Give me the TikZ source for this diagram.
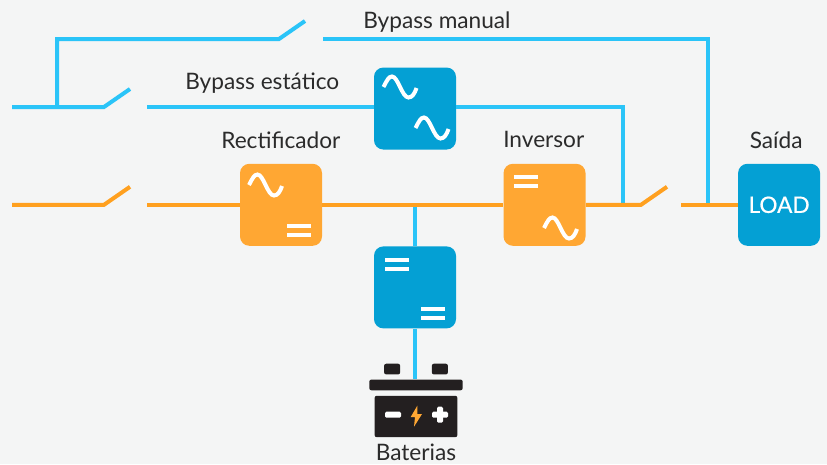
\documentclass[tikz,border=0pt]{standalone}
\usepackage{fontspec}
\setmainfont{Lato}
\newfontfamily\loadfont[RawFeature={embolden=0.5}]{Lato}
\usetikzlibrary{positioning}
\definecolor{bgpage}{HTML}{F4F5F5}
\definecolor{boxblue}{HTML}{04A0D4}
\definecolor{boxorange}{HTML}{FFA733}
\definecolor{linecyan}{HTML}{2AC4F8}
\definecolor{lineorange}{HTML}{FFA01F}
\definecolor{battblack}{HTML}{231F20}
\definecolor{labelgrey}{HTML}{2B2B2B}
\tikzset{
    unit/.style={minimum size=61.5pt,inner sep=0pt,rounded corners=7pt},
    blueunit/.style={unit,fill=boxblue},
    orangeunit/.style={unit,fill=boxorange},
    cyanline/.style={draw=linecyan,line width=3pt},
    orangeline/.style={draw=lineorange,line width=3pt},
    tag/.style={text=labelgrey,font=\fontsize{17}{20}\selectfont,inner sep=0pt},
    blackpart/.style={fill=battblack,inner sep=0pt,rounded corners=1.5pt},
    sine/.pic={
        \draw[white,line width=3pt] (-16.5,0) .. controls (-13,-7) and (-11,-10.5) .. (-8,-10.5)
            .. controls (-2,-10.5) and (2,10.5) .. (8.5,10.5)
            .. controls (12,10.5) and (14.5,7) .. (16.5,1);
    },
    equal/.pic={
        \fill[white] (-12,-6.5) rectangle (12,-2.5);
        \fill[white] (-12,2.5) rectangle (12,6.5);
    }
}
\begin{document}
\begin{tikzpicture}[x=0.75pt,y=-0.75pt]
    \fill[bgpage] (0,0) rectangle (827,464);
    \useasboundingbox (0,0) rectangle (827,464);

    \coordinate (tap) at (415,204.8);
    \node[orangeunit] (rect) at (281,204.8) {};
    \node[orangeunit,right=135.75pt of rect] (inv) {};
    \node[blueunit,right=114pt of inv,text=white,font=\fontsize{17}{20}\loadfont] (load) {LOAD};
    \node[blueunit,below=31pt of tap] (dc) {};
    \node[blueunit,above=41.25pt of tap] (stat) {};

    % battery
    \node[blackpart,minimum width=70pt,minimum height=8pt,below=38pt of dc,xshift=0.75pt] (bar) {};
    \node[blackpart,minimum width=12pt,minimum height=8pt,above left=3.5pt and -23.5pt of bar] (termleft) {};
    \node[blackpart,minimum width=12pt,minimum height=8pt,above right=3.5pt and -23.5pt of bar] (termright) {};
    \node[blackpart,minimum width=62pt,minimum height=31pt,below=3.75pt of bar] (body) {};
    \node[tag,below=5pt of body] (batt) {Baterias};

    % free ends
    \coordinate (inA) at (12,107);
    \coordinate (swA) at (104,107);
    \coordinate (bladeA) at (130,89);
    \coordinate (backA) at (147,107);
    \coordinate (upA) at (57,107);
    \coordinate (cornerB) at (57,39);
    \coordinate (swB) at (279,39);
    \coordinate (bladeB) at (305,21);
    \coordinate (backB) at (323,39);
    \coordinate (cornerC) at (708,39);
    \coordinate (meetC) at (708,204.8);
    \coordinate (cornerD) at (623,107);
    \coordinate (meetD) at (623,204.8);
    \coordinate (inE) at (12,204.8);
    \coordinate (swE) at (104,204.8);
    \coordinate (bladeE) at (130,186.8);
    \coordinate (backE) at (147,204.8);
    \coordinate (swF) at (641,204.8);
    \coordinate (bladeF) at (667,186.8);
    \coordinate (backF) at (681,204.8);

    \draw[cyanline] (inA) -- (swA) -- (bladeA);
    \draw[cyanline] (backA) -- (stat.west |- backA);
    \draw[cyanline] (stat.east |- backA) -- (cornerD) -- (meetD);
    \draw[cyanline] (upA) -- (cornerB) -- (swB) -- (bladeB);
    \draw[cyanline] (backB) -- (cornerC) -- (meetC);
    \draw[cyanline] (tap) -- (dc.north);
    \draw[cyanline] (dc.south) -- (dc.south |- bar.north);

    \draw[orangeline] (inE) -- (swE) -- (bladeE);
    \draw[orangeline] (backE) -- (rect.west);
    \draw[orangeline] (rect.east) -- (inv.west);
    \draw[orangeline] (inv.east) -- (swF) -- (bladeF);
    \draw[orangeline] (backF) -- (load.west);

    % symbols
    \pic at (400,87) {sine};
    \pic at (432,128) {sine};
    \pic at (265.5,185) {sine};
    \pic at (299,230.7) {equal};
    \pic at (525.5,181.2) {equal};
    \pic at (560.5,228) {sine};
    \pic at (397,264.5) {equal};
    \pic at (433,313) {equal};

    % battery signs
    \fill[white,rounded corners=1pt] (385,411.7) rectangle (401,417.7);
    \fill[white,rounded corners=1pt] (432,411.7) rectangle (448,417.7);
    \fill[white,rounded corners=1pt] (437,406.7) rectangle (443,422.7);
    \fill[boxorange] (417.3,405.7) -- (410.7,417) -- (415,417) -- (414,426.7) -- (422,414) -- (417.3,414) -- cycle;

    % labels
    \node[tag,anchor=west] (manual) at (363,22) {Bypass manual};
    \node[tag,anchor=west] (static) at (185,83) {Bypass estático};
    \node[tag,anchor=west] (rectlabel) at (221,140) {Rectificador};
    \node[tag,anchor=west] (invlabel) at (503,139) {Inversor};
    \node[tag,anchor=west] (outlabel) at (749.5,140) {Saída};
\end{tikzpicture}
\end{document}
